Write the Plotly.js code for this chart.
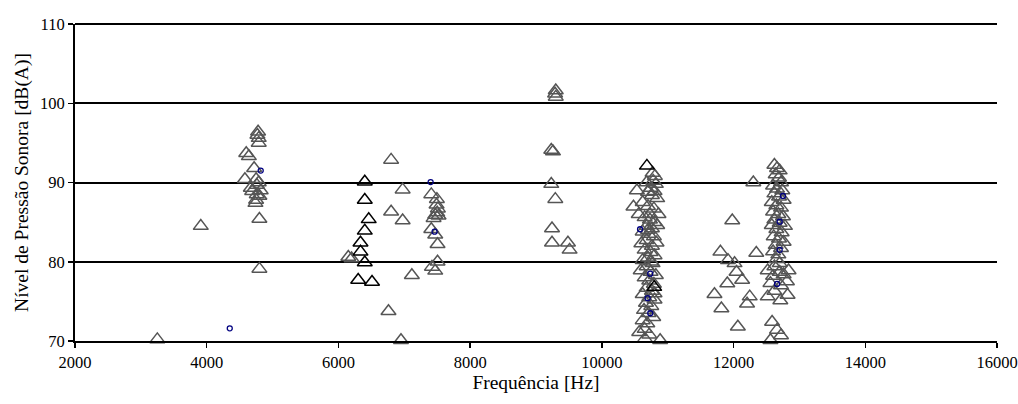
<!DOCTYPE html>
<html>
<head>
<meta charset="utf-8">
<script src="https://cdn.plot.ly/plotly-3.0.1.min.js"></script>
<style>html,body{margin:0;padding:0;background:#fff;}#chart{width:1018px;height:404px;}</style>
</head>
<body>
<div id="chart"></div>
<script>
// Gray triangles (frequency Hz, level dB(A))
const grayFreq = [
  3250, 3910,
  4780, 4770, 4790, 4790, 4600, 4640, 4720, 4580, 4750, 4790, 4760, 4670, 4820, 4760, 4750, 4740, 4800, 4800, 4690, 4800,
  6150, 6200,
  6800, 6975, 6800, 6975, 7115, 6760, 6950,
  7410, 7495, 7510, 7470, 7520, 7445, 7410, 7470, 7505, 7505, 7420, 7470, 7500, 7490,
  9300, 9290, 9300, 9232, 9258, 9232, 9293, 9243, 9243, 9485, 9510,
  10770, 10805, 10744, 10532, 10780, 10820, 10700, 10760, 10840, 10480, 10620, 10700, 10790, 10860, 10560, 10650, 10730, 10800,
  10680, 10760, 10840, 10620, 10710, 10790, 10600, 10680, 10760, 10830, 10650, 10740, 10800, 10700, 10620, 10770, 10680, 10590,
  10740, 10820, 10650, 10720, 10790, 10680, 10760, 10620, 10720, 10800, 10670, 10750, 10640, 10710, 10780, 10620, 10690, 10567,
  10650, 10654, 10885, 10720, 10730, 10680, 10800, 10700, 10750, 10800,
  12300, 11980, 11800, 11915, 12015, 12045, 12130, 11905, 11710, 12245, 12205, 11815, 12065, 12345,
  12620, 12660, 12700, 12640, 12690, 12720, 12600, 12660, 12740, 12620, 12690, 12760, 12580, 12650, 12720, 12600, 12680, 12750,
  12620, 12700, 12780, 12580, 12650, 12730, 12610, 12690, 12760, 12640, 12720, 12600, 12680, 12650, 12700, 12620, 12518, 12835,
  12700, 12760, 12600, 12810, 12560, 12720, 12518, 12710, 12820, 12620, 12585, 12660, 12720, 12560
];
const grayLevel = [
  70.2, 84.5,
  96.4, 96.0, 95.6, 95.0, 93.7, 93.3, 91.8, 90.4, 90.4, 90.0, 89.7, 89.3, 89.0, 88.5, 87.8, 87.4, 85.4, 79.1, 88.9, 88.3,
  80.6, 80.4,
  92.85, 89.1, 86.3, 85.2, 78.3, 73.75, 70.1,
  88.5, 87.9, 86.7, 85.9, 85.8, 85.5, 84.1, 83.4, 82.2, 80.0, 79.35, 78.85, 86.2, 87.2,
  101.6, 101.2, 100.8, 94.1, 93.9, 89.8, 87.9, 84.2, 82.4, 82.4, 81.5,
  91.2, 90.8, 89.3, 89.0, 90.2, 89.8, 88.8, 88.4, 88.0, 86.95, 87.5, 87.0, 86.7, 86.0, 86.0, 85.6, 85.3, 85.0,
  84.5, 84.2, 84.6, 83.8, 83.5, 83.2, 82.3, 82.7, 82.0, 82.4, 81.5, 81.2, 80.8, 80.5, 80.2, 79.8, 79.4, 78.9,
  78.7, 78.3, 78.0, 77.6, 77.2, 76.7, 76.3, 75.9, 75.5, 75.2, 74.8, 74.4, 73.9, 73.5, 73.0, 72.6, 72.2, 71.1,
  71.5, 70.3, 70.1, 70.8, 86.0, 90.0, 88.9, 84.0, 80.0, 76.0,
  90.0, 85.2, 81.25, 80.2, 79.8, 78.7, 77.7, 77.25, 75.9, 75.6, 74.7, 74.1, 71.8, 81.1,
  92.2, 91.8, 91.5, 91.0, 90.6, 90.0, 89.6, 89.2, 89.0, 88.6, 88.2, 87.8, 87.5, 87.1, 86.8, 86.3, 86.0, 85.7,
  85.3, 84.9, 84.5, 84.6, 84.1, 83.7, 83.2, 82.9, 82.5, 82.1, 81.7, 81.3, 80.9, 80.3, 79.8, 79.4, 78.9, 78.9,
  78.7, 78.4, 78.2, 77.5, 77.3, 77.0, 75.6, 75.1, 75.8, 76.3, 72.4, 71.4, 70.7, 70.1
];
// Black triangles
const blackFreq  = [6400, 6400, 6460, 6400, 6335, 6335, 6400, 6300, 6510, 10684, 10795];
const blackLevel = [90.1, 87.8, 85.35, 83.9, 82.4, 81.25, 79.9, 77.7, 77.45, 92.1, 76.8];
// Blue circles
const blueFreq  = [4350, 4820, 7400, 7460, 10580, 10735, 10695, 10735, 12750, 12700, 12700, 12660];
const blueLevel = [71.6, 91.5, 90.05, 83.8, 84.1, 78.5, 75.4, 73.5, 88.3, 85.05, 81.5, 77.2];

const xTicks = [2000, 4000, 6000, 8000, 10000, 12000, 14000, 16000];
const yTicks = [70, 80, 90, 100, 110];

const tri = (color) => ({symbol: 'triangle-up-open', size: 13, color: color, line: {color: color, width: 1.5}});

const traces = [
  {x: grayFreq, y: grayLevel, type: 'scatter', mode: 'markers', cliponaxis: false, marker: tri('#555555'), showlegend: false},
  {x: blackFreq, y: blackLevel, type: 'scatter', mode: 'markers', cliponaxis: false, marker: tri('#000000'), showlegend: false},
  {x: blueFreq, y: blueLevel, type: 'scatter', mode: 'markers', cliponaxis: false,
   marker: {symbol: 'circle-open', size: 5, color: '#000080', line: {color: '#000080', width: 1.3}}, showlegend: false}
];

const layout = {
  width: 1018, height: 404,
  margin: {l: 75, r: 21, t: 24, b: 63},
  paper_bgcolor: '#ffffff', plot_bgcolor: '#ffffff',
  font: {family: '"Liberation Serif", "Times New Roman", serif', size: 16.5, color: '#000'},
  xaxis: {
    range: [2000, 16000], tickvals: xTicks, ticktext: xTicks.map(String),
    showgrid: false, zeroline: false, showline: true, linecolor: '#000', linewidth: 2,
    ticks: 'outside', ticklen: 5, tickwidth: 1.5, tickcolor: '#000',
    tickfont: {size: 16.5}, ticklabeloverflow: 'allow',
    title: {text: 'Frequência [Hz]', font: {size: 19.5}, standoff: 4}
  },
  yaxis: {
    range: [70, 110], tickvals: yTicks, ticktext: yTicks.map(String),
    showgrid: true, gridcolor: '#000', gridwidth: 2, zeroline: false,
    showline: true, linecolor: '#000', linewidth: 2,
    ticks: 'outside', ticklen: 5, tickwidth: 1.5, tickcolor: '#000',
    tickfont: {size: 16.5}, ticklabeloverflow: 'allow',
    title: {text: 'Nível de Pressão Sonora [dB(A)]', font: {size: 19.5}, standoff: 6}
  },
  shapes: [
    {type: 'line', xref: 'paper', yref: 'paper', x0: 0, x1: 1, y0: 1, y1: 1, line: {color: '#000', width: 2}}
  ]
};

Plotly.newPlot('chart', traces, layout, {staticPlot: true, displayModeBar: false});
</script>
</body>
</html>
